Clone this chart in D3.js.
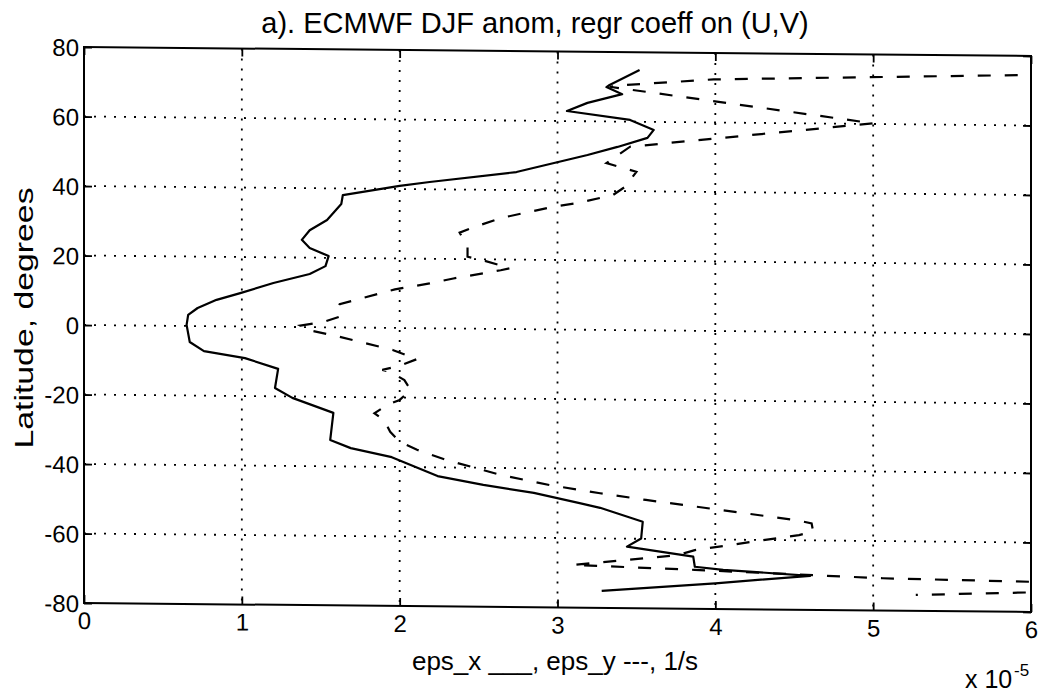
<!DOCTYPE html>
<html>
<head>
<meta charset="utf-8">
<script src="https://cdn.jsdelivr.net/npm/d3@7"></script>
<style>
  html, body { margin: 0; padding: 0; background: #fff; }
  text { font-family: "Liberation Sans", Arial, Helvetica, sans-serif; fill: #000; }
</style>
</head>
<body>
<svg id="chart" width="1045" height="692"></svg>
<script>
// ---- data (x in units of 1e-5 1/s, latitude in degrees) ----
const epsX_val = [3.52,3.33,3.31,3.41,3.19,3.06,3.46,3.61,3.57,3.38,3.19,2.74,2.19,2.00,1.64,1.63,1.54,1.43,1.38,1.43,1.55,1.53,1.43,1.20,0.99,0.84,0.72,0.66,0.65,0.67,0.76,1.02,1.23,1.21,1.32,1.58,1.56,1.69,1.95,2.24,2.53,2.85,3.14,3.27,3.54,3.53,3.44,3.86,3.87,4.05,4.60,4.00,3.28];
const epsX_lat = [74.9,70.5,69.9,67.9,65.3,62.9,60.5,57.7,55.4,52.7,50.3,45.2,42.1,40.9,38.1,35.5,30.9,27.9,25.1,22.8,20.5,17.6,15.3,12.6,9.6,7.6,5.2,3.2,0.3,-4.6,-7.2,-9.1,-12.1,-17.6,-20.4,-24.6,-32.4,-34.7,-37.2,-42.5,-44.9,-47.1,-49.9,-51.2,-55.1,-59.9,-62.3,-65.0,-67.9,-68.7,-70.2,-72.6,-75.1];

const epsY_val = [6.6,3.99,3.42,3.33,5.00,3.46,3.31,3.50,3.43,3.35,3.12,2.97,2.64,2.45,2.38,2.43,2.43,2.52,2.70,2.64,2.34,2.19,1.97,1.62,1.60,1.62,1.52,1.37,1.42,1.62,1.96,2.11,2.00,1.89,1.94,2.03,2.07,2.00,1.92,1.84,1.90,1.94,2.00,2.11,2.30,2.64,2.95,3.27,3.56,4.51,4.61,4.62,4.53,3.87,3.76,3.10,3.87,4.62,5.06,6.6,6.6,5.27];
const epsY_lat = [75.2,72.4,70.5,70.0,60.2,52.8,48.0,45.6,41.3,38.8,36.4,35.3,31.9,28.9,27.6,23.6,20.7,19.8,17.5,16.9,14.4,12.9,11.1,6.7,4.5,3.1,1.6,0.4,-0.8,-2.7,-6.4,-8.9,-10.9,-12.1,-12.6,-15.0,-17.8,-20.7,-22.2,-24.6,-26.5,-29.9,-32.7,-35.0,-37.9,-42.0,-44.8,-47.0,-48.8,-54.2,-55.1,-57.5,-58.5,-63.1,-64.6,-67.7,-68.8,-70.0,-70.7,-71.7,-73.5,-75.4];

const xTicks = [0,1,2,3,4,5,6];
const yTicks = [-80,-60,-40,-20,0,20,40,60,80];

const titleText = "a). ECMWF DJF anom, regr coeff on (U,V)";
const xLabelText = "eps_x ___, eps_y ---, 1/s";
const yLabelText = "Latitude, degrees";

// ---- layout ----
const L = 84, R = 1031, T = 47, B = 603;
const skew = 0.0095; // scanned page is slightly sheared
const svg = d3.select("#chart");

const x = d3.scaleLinear().domain([0, 6]).range([L, R]);
const y = d3.scaleLinear().domain([-80, 80]).range([B, T]);

const g = svg.append("g")
  .attr("transform", `matrix(1,${skew},0,1,0,${-skew * L})`);

g.append("defs").append("clipPath").attr("id", "plotclip")
  .append("rect").attr("x", L).attr("y", T).attr("width", R - L).attr("height", B - T);

// grid
const grid = g.append("g").attr("stroke", "#000").attr("stroke-width", 1.8)
  .attr("stroke-dasharray", "2,8");
grid.selectAll("line.vx").data(xTicks.filter(d => d > 0 && d < 6)).join("line")
  .attr("x1", d => x(d)).attr("x2", d => x(d)).attr("y1", T).attr("y2", B);
grid.selectAll("line.hy").data(yTicks.filter(d => d > -80 && d < 80)).join("line")
  .attr("x1", L).attr("x2", R).attr("y1", d => y(d)).attr("y2", d => y(d));

// axes (ticks inward on all sides)
const fontSize = 24;
const fmt = d => String(d);
const axB = g.append("g").attr("transform", `translate(0,${B})`)
  .call(d3.axisBottom(x).tickValues(xTicks).tickSize(-8).tickPadding(9).tickFormat(fmt));
const axL = g.append("g").attr("transform", `translate(${L},0)`)
  .call(d3.axisLeft(y).tickValues(yTicks).tickSize(-8).tickPadding(5).tickFormat(fmt));
const axT = g.append("g").attr("transform", `translate(0,${T})`)
  .call(d3.axisTop(x).tickValues(xTicks).tickSize(-8).tickFormat(""));
const axR = g.append("g").attr("transform", `translate(${R},0)`)
  .call(d3.axisRight(y).tickValues(yTicks).tickSize(-8).tickFormat(""));
[axB, axL, axT, axR].forEach(a => {
  a.select(".domain").remove();
  a.selectAll(".tick line").attr("stroke", "#000").attr("stroke-width", 1.8);
  a.selectAll(".tick text").attr("font-size", fontSize).attr("fill", "#000")
    .attr("font-family", '"Liberation Sans", Arial, sans-serif');
});
axL.selectAll(".tick text").attr("dy", "0.36em");

// box
g.append("rect").attr("x", L).attr("y", T).attr("width", R - L).attr("height", B - T)
  .attr("fill", "none").attr("stroke", "#000").attr("stroke-width", 2);

// lines
const line = d3.line().x(d => x(d[0])).y(d => y(d[1]));
const solid = epsX_val.map((v, i) => [v, epsX_lat[i]]);
const dashed = epsY_val.map((v, i) => [v, epsY_lat[i]]);
const lines = g.append("g").attr("clip-path", "url(#plotclip)");
lines.append("path").attr("d", line(solid)).attr("fill", "none")
  .attr("stroke", "#000").attr("stroke-width", 2.2).attr("stroke-linejoin", "round");
lines.append("path").attr("d", line(dashed)).attr("fill", "none")
  .attr("stroke", "#000").attr("stroke-width", 2.2).attr("stroke-dasharray", "13,14");

// texts
svg.append("text").attr("x", 535).attr("y", 33).attr("text-anchor", "middle")
  .attr("font-size", 29).text(titleText);
svg.append("text").attr("x", 555).attr("y", 670).attr("text-anchor", "middle")
  .attr("font-size", 26).text(xLabelText);
svg.append("text").attr("transform", "translate(33,318) rotate(-90) scale(1.3,1)")
  .attr("text-anchor", "middle").attr("font-size", 26).text(yLabelText);
svg.append("text").attr("x", 965).attr("y", 688).attr("font-size", 25).text("x 10");
svg.append("text").attr("x", 1014).attr("y", 676).attr("font-size", 17).text("-5");
</script>
</body>
</html>
